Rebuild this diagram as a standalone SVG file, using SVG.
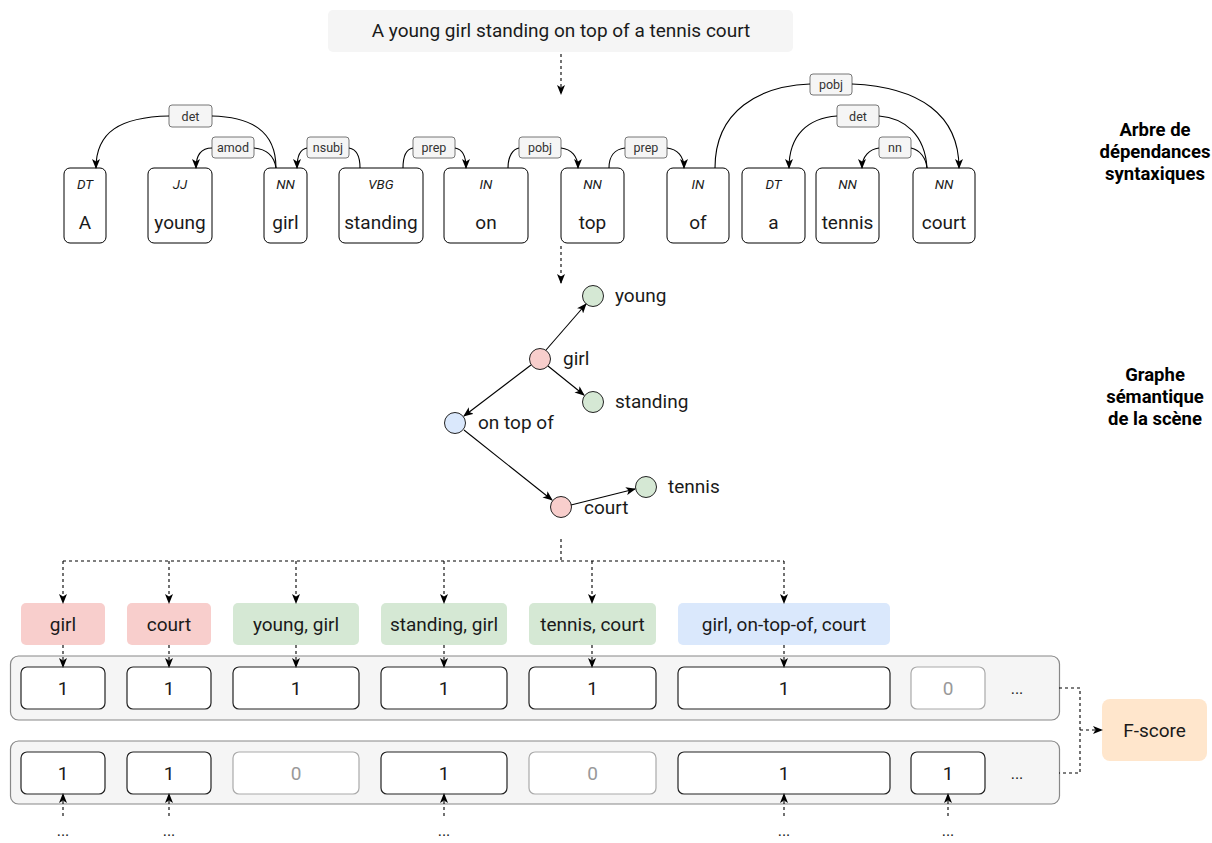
<svg xmlns="http://www.w3.org/2000/svg" width="1212" height="843" viewBox="0 0 1212 843">
<defs>
<marker id="ar" viewBox="0 0 10 8" refX="9" refY="4" markerWidth="10" markerHeight="8.5" markerUnits="userSpaceOnUse" orient="auto">
<path d="M0,0 L10,4 L0,8 L2.5,4 z" fill="#000"/>
</marker>
<style>
.t{font-family:Roboto,"Liberation Sans",sans-serif;fill:#1a1a1a;text-anchor:middle}
.w{font-size:19px}
.pos{font-size:13.5px;font-style:italic}
.lb{font-size:12.5px;fill:#333}
.rt{font-size:18.5px;font-weight:bold;fill:#000}
.dots{font-size:16px}
.wb{fill:#fff;stroke:#000;stroke-width:1}
.lab{fill:#f5f5f5;stroke:#777;stroke-width:1}
.arc{fill:none;stroke:#000;stroke-width:1.1;marker-end:url(#ar)}
.ln{fill:none;stroke:#000;stroke-width:1.1}
.dash{fill:none;stroke:#000;stroke-width:1.1;stroke-dasharray:3 3}
.da{fill:none;stroke:#000;stroke-width:1.1;stroke-dasharray:3 3;marker-end:url(#ar)}
.ce{stroke:#222;stroke-width:1}
.red{fill:#f8cecc}.grn{fill:#d5e8d4}.blu{fill:#dae8fc}
.row{fill:#f5f5f5;stroke:#888;stroke-width:1.2}
.v1{fill:#fff;stroke:#222;stroke-width:1.2}
.v0{fill:#fff;stroke:#aaa;stroke-width:1.2}
.g0{fill:#999}
</style>
</defs>

<g id="sentence">
<rect x="328" y="10" width="465" height="42" rx="5" fill="#f5f5f5"/>
<text class="t w" x="561" y="37">A young girl standing on top of a tennis court</text>
</g>

<g id="w-A"><rect class="wb" x="64" y="168" width="42" height="75" rx="6"/><text class="t pos" x="85" y="189">DT</text><text class="t w" x="85" y="229">A</text></g>
<g id="w-young"><rect class="wb" x="148" y="168" width="64" height="75" rx="6"/><text class="t pos" x="180" y="189">JJ</text><text class="t w" x="180" y="229">young</text></g>
<g id="w-girl"><rect class="wb" x="264" y="168" width="43" height="75" rx="6"/><text class="t pos" x="285.5" y="189">NN</text><text class="t w" x="285.5" y="229">girl</text></g>
<g id="w-standing"><rect class="wb" x="339" y="168" width="84" height="75" rx="6"/><text class="t pos" x="381" y="189">VBG</text><text class="t w" x="381" y="229">standing</text></g>
<g id="w-on"><rect class="wb" x="444" y="168" width="84" height="75" rx="6"/><text class="t pos" x="486" y="189">IN</text><text class="t w" x="486" y="229">on</text></g>
<g id="w-top"><rect class="wb" x="561" y="168" width="63" height="75" rx="6"/><text class="t pos" x="592.5" y="189">NN</text><text class="t w" x="592.5" y="229">top</text></g>
<g id="w-of"><rect class="wb" x="667" y="168" width="62" height="75" rx="6"/><text class="t pos" x="698" y="189">IN</text><text class="t w" x="698" y="229">of</text></g>
<g id="w-a"><rect class="wb" x="742" y="168" width="63" height="75" rx="6"/><text class="t pos" x="773.5" y="189">DT</text><text class="t w" x="773.5" y="229">a</text></g>
<g id="w-tennis"><rect class="wb" x="816" y="168" width="63" height="75" rx="6"/><text class="t pos" x="847.5" y="189">NN</text><text class="t w" x="847.5" y="229">tennis</text></g>
<g id="w-court"><rect class="wb" x="913" y="168" width="62" height="75" rx="6"/><text class="t pos" x="944" y="189">NN</text><text class="t w" x="944" y="229">court</text></g>

<g id="n-young"><circle class="ce grn" cx="593" cy="296" r="10.5"/><text class="t w" x="615" y="302" style="text-anchor:start">young</text></g>
<g id="n-girl"><circle class="ce red" cx="540" cy="359" r="10.5"/><text class="t w" x="563" y="365" style="text-anchor:start">girl</text></g>
<g id="n-standing"><circle class="ce grn" cx="593" cy="402" r="10.5"/><text class="t w" x="615" y="408" style="text-anchor:start">standing</text></g>
<g id="n-ontopof"><circle class="ce blu" cx="455" cy="423" r="10.5"/><text class="t w" x="478" y="429" style="text-anchor:start">on top of</text></g>
<g id="n-court"><circle class="ce red" cx="561" cy="507" r="10.5"/><text class="t w" x="584" y="514" style="text-anchor:start">court</text></g>
<g id="n-tennis"><circle class="ce grn" cx="646" cy="487" r="10.5"/><text class="t w" x="668" y="493" style="text-anchor:start">tennis</text></g>

<g id="title-dep"><text class="t rt" x="1155" y="136">Arbre de</text><text class="t rt" x="1155" y="158">dépendances</text><text class="t rt" x="1155" y="180">syntaxiques</text></g>
<g id="title-graph"><text class="t rt" x="1155" y="381">Graphe</text><text class="t rt" x="1155" y="403">sémantique</text><text class="t rt" x="1155" y="425">de la scène</text></g>

<g id="tuples">
<rect class="red" x="21" y="603" width="84" height="42" rx="5"/><text class="t w" x="63" y="631">girl</text>
<rect class="red" x="127" y="603" width="84" height="42" rx="5"/><text class="t w" x="169" y="631">court</text>
<rect class="grn" x="233" y="603" width="126" height="42" rx="5"/><text class="t w" x="296" y="631">young, girl</text>
<rect class="grn" x="381" y="603" width="126" height="42" rx="5"/><text class="t w" x="444" y="631">standing, girl</text>
<rect class="grn" x="529" y="603" width="127" height="42" rx="5"/><text class="t w" x="592.5" y="631">tennis, court</text>
<rect class="blu" x="678" y="603" width="212" height="42" rx="5"/><text class="t w" x="784" y="631">girl, on-top-of, court</text>
</g>

<g id="row1">
<rect class="row" x="10.5" y="656" width="1049" height="64" rx="8"/>
<rect class="v1" x="21" y="667" width="84" height="42" rx="6"/><text class="t w" x="63" y="695">1</text>
<rect class="v1" x="127" y="667" width="84" height="42" rx="6"/><text class="t w" x="169" y="695">1</text>
<rect class="v1" x="233" y="667" width="126" height="42" rx="6"/><text class="t w" x="296" y="695">1</text>
<rect class="v1" x="381" y="667" width="126" height="42" rx="6"/><text class="t w" x="444" y="695">1</text>
<rect class="v1" x="529" y="667" width="127" height="42" rx="6"/><text class="t w" x="592.5" y="695">1</text>
<rect class="v1" x="678" y="667" width="212" height="42" rx="6"/><text class="t w" x="784" y="695">1</text>
<rect class="v0" x="911" y="667" width="74" height="42" rx="6"/><text class="t w g0" x="948" y="695">0</text>
<text class="t dots" x="1017" y="694">...</text>
</g>

<g id="row2">
<rect class="row" x="10.5" y="741" width="1049" height="63" rx="8"/>
<rect class="v1" x="21" y="752" width="84" height="42" rx="6"/><text class="t w" x="63" y="780">1</text>
<rect class="v1" x="127" y="752" width="84" height="42" rx="6"/><text class="t w" x="169" y="780">1</text>
<rect class="v0" x="233" y="752" width="126" height="42" rx="6"/><text class="t w g0" x="296" y="780">0</text>
<rect class="v1" x="381" y="752" width="126" height="42" rx="6"/><text class="t w" x="444" y="780">1</text>
<rect class="v0" x="529" y="752" width="127" height="42" rx="6"/><text class="t w g0" x="592.5" y="780">0</text>
<rect class="v1" x="678" y="752" width="212" height="42" rx="6"/><text class="t w" x="784" y="780">1</text>
<rect class="v1" x="911" y="752" width="74" height="42" rx="6"/><text class="t w" x="948" y="780">1</text>
<text class="t dots" x="1017" y="779">...</text>
</g>

<g id="more">
<text class="t dots" x="63" y="836">...</text>
<text class="t dots" x="169" y="836">...</text>
<text class="t dots" x="444" y="836">...</text>
<text class="t dots" x="784" y="836">...</text>
<text class="t dots" x="948" y="836">...</text>
</g>

<g id="fscore">
<rect x="1102" y="699" width="105" height="62" rx="8" fill="#ffe6cc"/>
<text class="t w" x="1154.5" y="737">F-score</text>
</g>

<g id="dep-labels">
<rect class="lab" x="169" y="105" width="43" height="22" rx="3"/><text class="t lb" x="190.5" y="120.5">det</text>
<rect class="lab" x="212" y="137" width="42" height="21" rx="3"/><text class="t lb" x="233" y="152">amod</text>
<rect class="lab" x="307" y="137" width="42" height="21" rx="3"/><text class="t lb" x="328" y="152">nsubj</text>
<rect class="lab" x="413" y="137" width="42" height="21" rx="3"/><text class="t lb" x="434" y="152">prep</text>
<rect class="lab" x="519" y="137" width="42" height="21" rx="3"/><text class="t lb" x="540" y="152">pobj</text>
<rect class="lab" x="625" y="137" width="42" height="21" rx="3"/><text class="t lb" x="646" y="152">prep</text>
<rect class="lab" x="810" y="74" width="42" height="21" rx="3"/><text class="t lb" x="831" y="89">pobj</text>
<rect class="lab" x="837" y="105" width="42" height="22" rx="3"/><text class="t lb" x="858" y="120.5">det</text>
<rect class="lab" x="879" y="137" width="32" height="21" rx="3"/><text class="t lb" x="895" y="152">nn</text>
</g>

<g id="connectors">
<path class="da" d="M561 54 V94"/>
<path class="da" d="M561 246 V283"/>
<path class="ln" d="M276 168 C276 130 250 117 212 116"/>
<path class="arc" d="M169 116 C120 117 96 132 96 168"/>
<path class="ln" d="M276 168 C274 155 266 149 254 148"/>
<path class="arc" d="M212 148 C201 148 196 156 196 168"/>
<path class="ln" d="M360 168 C360 156 356 149 349 148"/>
<path class="arc" d="M307 148 C301 149 297 156 297 168"/>
<path class="ln" d="M403 168 C403 156 407 149 413 148"/>
<path class="arc" d="M455 148 C462 149 466 156 466 168"/>
<path class="ln" d="M508 168 C508 156 513 149 519 148"/>
<path class="arc" d="M561 148 C571 149 578 156 578 168"/>
<path class="ln" d="M609 168 C609 156 615 149 625 148"/>
<path class="arc" d="M667 148 C677 149 684 156 684 168"/>
<path class="ln" d="M715 168 C715 110 760 86 810 84"/>
<path class="arc" d="M852 84 C920 87 959 115 959 168"/>
<path class="ln" d="M927 168 C925 135 905 118 879 116"/>
<path class="arc" d="M837 116 C808 118 789 135 789 168"/>
<path class="ln" d="M927 168 C926 158 920 150 911 148"/>
<path class="arc" d="M879 148 C870 149 862 156 862 168"/>
<path class="arc" d="M546 350 L586 304"/>
<path class="arc" d="M548 366 L584 395"/>
<path class="arc" d="M531 365 L464 416"/>
<path class="arc" d="M464 430 L552 500"/>
<path class="arc" d="M571 505 L635 489"/>
<path class="dash" d="M561 539 V561 M63 561 H784"/>
<path class="da" d="M63 561 V603"/>
<path class="da" d="M169 561 V603"/>
<path class="da" d="M296 561 V603"/>
<path class="da" d="M444 561 V603"/>
<path class="da" d="M592 561 V603"/>
<path class="da" d="M784 561 V603"/>
<path class="da" d="M63 645 V667"/>
<path class="da" d="M169 645 V667"/>
<path class="da" d="M296 645 V667"/>
<path class="da" d="M444 645 V667"/>
<path class="da" d="M592 645 V667"/>
<path class="da" d="M784 645 V667"/>
<path class="da" d="M63 816 V794"/>
<path class="da" d="M169 816 V794"/>
<path class="da" d="M444 816 V794"/>
<path class="da" d="M784 816 V794"/>
<path class="da" d="M948 816 V794"/>
<path class="dash" d="M1059 688 H1080 V773 H1059"/>
<path class="da" d="M1080 730 H1102"/>
</g>
</svg>
